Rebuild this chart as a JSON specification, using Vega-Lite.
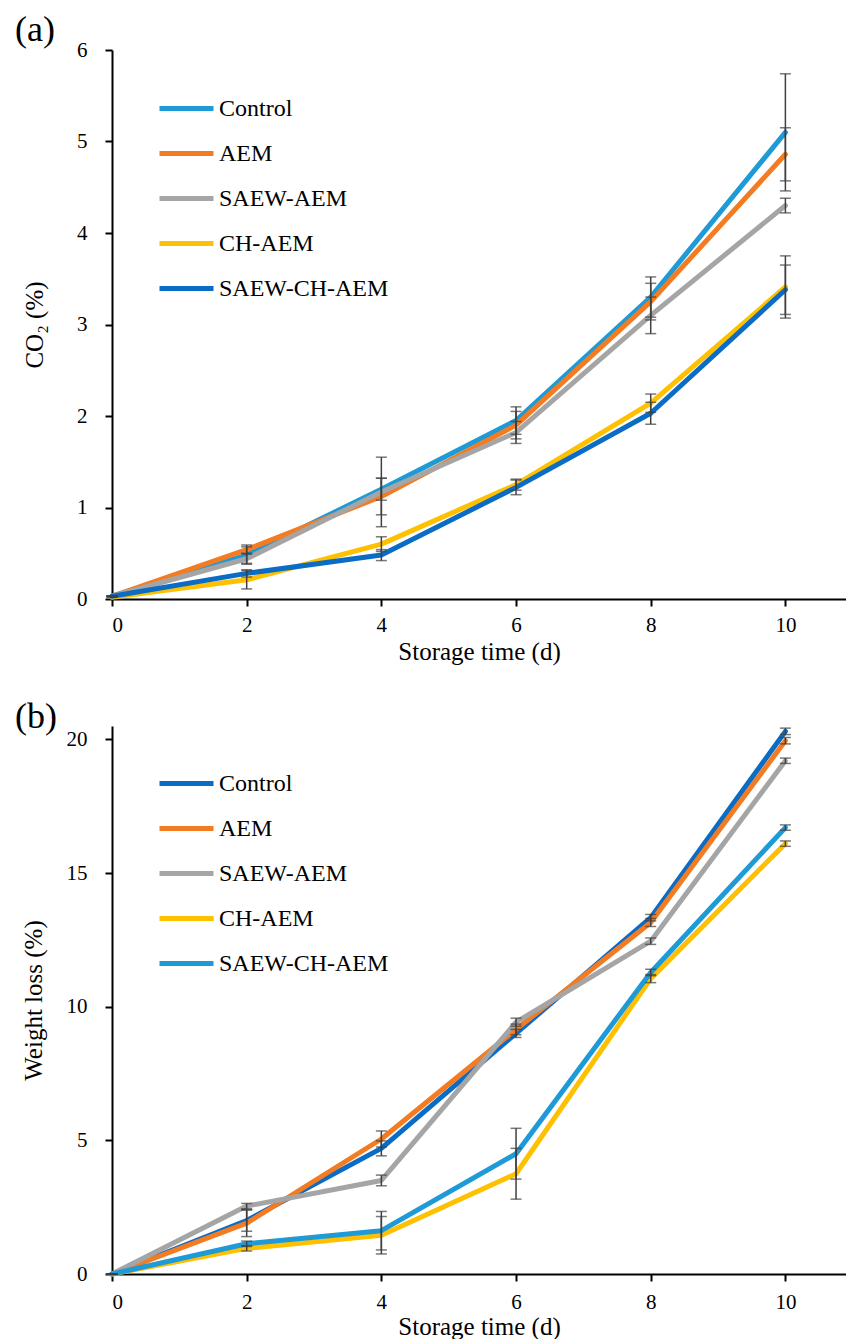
{
  "$schema": "https://vega.github.io/schema/vega-lite/v6.json",
  "background": "white",
  "padding": {"left": 15, "top": 12, "right": 0, "bottom": 0},
  "bounds": "flush",
  "spacing": 127,
  "resolve": {"scale": {"color": "independent"}, "legend": {"color": "independent"}},
  "config": {
    "font": "Liberation Serif",
    "view": {"stroke": null},
    "axis": {"grid": false, "domainColor": "black", "domainWidth": 2, "tickColor": "black", "tickWidth": 2, "tickSize": 7, "labelFont": "Liberation Serif", "labelFontSize": 21, "labelColor": "black", "titleFont": "Liberation Serif", "titleFontSize": 25, "titleFontWeight": "normal", "titleColor": "black"},
    "legend": {"symbolType": "stroke", "symbolSize": 2916, "symbolStrokeWidth": 5, "labelFont": "Liberation Serif", "labelFontSize": 24, "labelColor": "black", "labelOffset": 3, "rowPadding": 3, "labelLimit": 400}
  },
  "datasets": {
    "co2": [
      {"t": 0, "series": "Control", "v": 0.03, "e": 0.0},
      {"t": 2, "series": "Control", "v": 0.48, "e": 0.09},
      {"t": 4, "series": "Control", "v": 1.2, "e": 0.12},
      {"t": 6, "series": "Control", "v": 1.95, "e": 0.15},
      {"t": 8, "series": "Control", "v": 3.3, "e": 0.22},
      {"t": 10, "series": "Control", "v": 5.1, "e": 0.64},
      {"t": 0, "series": "AEM", "v": 0.03, "e": 0.0},
      {"t": 2, "series": "AEM", "v": 0.54, "e": 0.05},
      {"t": 4, "series": "AEM", "v": 1.12, "e": 0.2},
      {"t": 6, "series": "AEM", "v": 1.9, "e": 0.15},
      {"t": 8, "series": "AEM", "v": 3.25, "e": 0.2},
      {"t": 10, "series": "AEM", "v": 4.86, "e": 0.29},
      {"t": 0, "series": "SAEW-AEM", "v": 0.03, "e": 0.0},
      {"t": 2, "series": "SAEW-AEM", "v": 0.44, "e": 0.06},
      {"t": 4, "series": "SAEW-AEM", "v": 1.17, "e": 0.38},
      {"t": 6, "series": "SAEW-AEM", "v": 1.82, "e": 0.12},
      {"t": 8, "series": "SAEW-AEM", "v": 3.1, "e": 0.2},
      {"t": 10, "series": "SAEW-AEM", "v": 4.3, "e": 0.08},
      {"t": 0, "series": "CH-AEM", "v": 0.02, "e": 0.0},
      {"t": 2, "series": "CH-AEM", "v": 0.21, "e": 0.1},
      {"t": 4, "series": "CH-AEM", "v": 0.6, "e": 0.08},
      {"t": 6, "series": "CH-AEM", "v": 1.25, "e": 0.06},
      {"t": 8, "series": "CH-AEM", "v": 2.14, "e": 0.1},
      {"t": 10, "series": "CH-AEM", "v": 3.41, "e": 0.34},
      {"t": 0, "series": "SAEW-CH-AEM", "v": 0.03, "e": 0.0},
      {"t": 2, "series": "SAEW-CH-AEM", "v": 0.28, "e": 0.04},
      {"t": 4, "series": "SAEW-CH-AEM", "v": 0.48, "e": 0.06},
      {"t": 6, "series": "SAEW-CH-AEM", "v": 1.22, "e": 0.08},
      {"t": 8, "series": "SAEW-CH-AEM", "v": 2.03, "e": 0.12},
      {"t": 10, "series": "SAEW-CH-AEM", "v": 3.38, "e": 0.27}
    ],
    "wl": [
      {"t": 0, "series": "Control", "v": 0, "e": 0.0},
      {"t": 2, "series": "Control", "v": 2.0, "e": 0.4},
      {"t": 4, "series": "Control", "v": 4.7, "e": 0.28},
      {"t": 6, "series": "Control", "v": 9.0, "e": 0.15},
      {"t": 8, "series": "Control", "v": 13.33, "e": 0.12},
      {"t": 10, "series": "Control", "v": 20.3, "e": 0.12},
      {"t": 0, "series": "AEM", "v": 0, "e": 0.0},
      {"t": 2, "series": "AEM", "v": 1.9, "e": 0.5},
      {"t": 4, "series": "AEM", "v": 5.05, "e": 0.3},
      {"t": 6, "series": "AEM", "v": 9.15, "e": 0.2},
      {"t": 8, "series": "AEM", "v": 13.15, "e": 0.15},
      {"t": 10, "series": "AEM", "v": 19.95, "e": 0.12},
      {"t": 0, "series": "SAEW-AEM", "v": 0, "e": 0.0},
      {"t": 2, "series": "SAEW-AEM", "v": 2.54, "e": 0.1},
      {"t": 4, "series": "SAEW-AEM", "v": 3.5, "e": 0.2},
      {"t": 6, "series": "SAEW-AEM", "v": 9.42, "e": 0.15},
      {"t": 8, "series": "SAEW-AEM", "v": 12.45, "e": 0.12},
      {"t": 10, "series": "SAEW-AEM", "v": 19.2, "e": 0.1},
      {"t": 0, "series": "CH-AEM", "v": 0, "e": 0.0},
      {"t": 2, "series": "CH-AEM", "v": 0.96, "e": 0.1},
      {"t": 4, "series": "CH-AEM", "v": 1.45, "e": 0.7},
      {"t": 6, "series": "CH-AEM", "v": 3.75, "e": 0.95},
      {"t": 8, "series": "CH-AEM", "v": 11.05, "e": 0.15},
      {"t": 10, "series": "CH-AEM", "v": 16.1, "e": 0.1},
      {"t": 0, "series": "SAEW-CH-AEM", "v": 0, "e": 0.0},
      {"t": 2, "series": "SAEW-CH-AEM", "v": 1.13, "e": 0.1},
      {"t": 4, "series": "SAEW-CH-AEM", "v": 1.62, "e": 0.72},
      {"t": 6, "series": "SAEW-CH-AEM", "v": 4.5, "e": 0.95},
      {"t": 8, "series": "SAEW-CH-AEM", "v": 11.28, "e": 0.12},
      {"t": 10, "series": "SAEW-CH-AEM", "v": 16.7, "e": 0.1}
    ]
  },
  "vconcat": [
    {
      "title": {"text": "(a)", "anchor": "start", "frame": "group", "dx": -97, "offset": -10, "fontSize": 36, "fontWeight": "normal", "font": "Liberation Serif", "color": "black"},
      "width": 734,
      "height": 549,
      "data": {"name": "co2"},
      "encoding": {
        "x": {"field": "t", "type": "quantitative", "scale": {"domain": [0, 10.9], "nice": false}, "axis": {"values": [0, 2, 4, 6, 8, 10], "format": "d", "title": "Storage time (d)", "labelFont": "Liberation Serif", "labelPadding": 8, "titlePadding": 4}},
        "y": {"field": "v", "type": "quantitative", "scale": {"domain": [0, 6], "nice": false}, "axis": {"values": [0, 1, 2, 3, 4, 5, 6], "format": "d", "title": "CO₂ (%)", "labelFont": "Liberation Serif", "labelPadding": 18, "titlePadding": 29}}
      },
      "layer": [
        {
          "mark": {"type": "line", "strokeWidth": 5, "strokeCap": "round", "strokeJoin": "round"},
          "encoding": {
            "color": {"field": "series", "type": "nominal",
              "scale": {"domain": ["Control", "AEM", "SAEW-AEM", "CH-AEM", "SAEW-CH-AEM"], "range": ["#1E9AD6", "#F37B21", "#A5A5A5", "#FFC000", "#0B6CC6"]},
              "legend": {"title": null, "orient": "none", "legendX": 45, "legendY": 29}}
          }
        },
        {
          "mark": {"type": "errorbar", "ticks": {"size": 11, "thickness": 1.5, "color": "#404040"}, "rule": {"strokeWidth": 1.5, "color": "#404040"}},
          "encoding": {
            "yError": {"field": "e"}
          }
        }
      ]
    },
    {
      "title": {"text": "(b)", "anchor": "start", "frame": "group", "dx": -97, "offset": -10, "fontSize": 36, "fontWeight": "normal", "font": "Liberation Serif", "color": "black"},
      "width": 734,
      "height": 548,
      "data": {"name": "wl"},
      "encoding": {
        "x": {"field": "t", "type": "quantitative", "scale": {"domain": [0, 10.9], "nice": false}, "axis": {"values": [0, 2, 4, 6, 8, 10], "format": "d", "title": "Storage time (d)", "labelFont": "Liberation Serif", "labelPadding": 10, "titlePadding": 2}},
        "y": {"field": "v", "type": "quantitative", "scale": {"domain": [0, 20.5], "nice": false}, "axis": {"values": [0, 5, 10, 15, 20], "format": "d", "title": "Weight loss (%)", "labelFont": "Liberation Serif", "labelPadding": 18, "titlePadding": 20}}
      },
      "layer": [
        {
          "mark": {"type": "line", "strokeWidth": 5, "strokeCap": "round", "strokeJoin": "round"},
          "encoding": {
            "color": {"field": "series", "type": "nominal",
              "scale": {"domain": ["Control", "AEM", "SAEW-AEM", "CH-AEM", "SAEW-CH-AEM"], "range": ["#0B6CC6", "#F37B21", "#A5A5A5", "#FFC000", "#1E9AD6"]},
              "legend": {"title": null, "orient": "none", "legendX": 45, "legendY": 28}}
          }
        },
        {
          "mark": {"type": "errorbar", "ticks": {"size": 11, "thickness": 1.5, "color": "#404040"}, "rule": {"strokeWidth": 1.5, "color": "#404040"}},
          "encoding": {
            "yError": {"field": "e"}
          }
        }
      ]
    }
  ]
}
